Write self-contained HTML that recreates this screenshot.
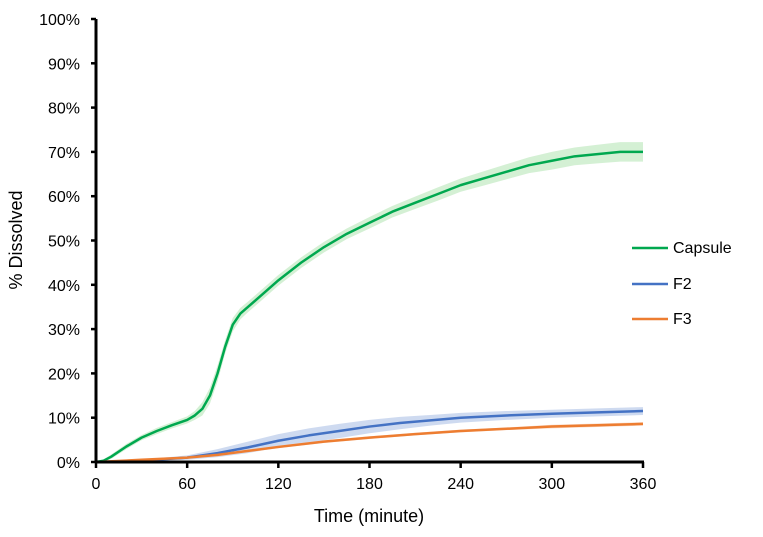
<!DOCTYPE html>
<html><head><meta charset="utf-8">
<style>
body{margin:0;background:#fff;font-family:"Liberation Sans",Arial,sans-serif;}
svg text{font-family:"Liberation Sans",Arial,sans-serif;fill:#000;}
</style></head>
<body>
<svg id="chart" width="763" height="532" viewBox="0 0 763 532" xmlns="http://www.w3.org/2000/svg"></svg>
<script>
const capT=[0,5,10,20,30,40,50,60,65,70,75,80,85,90,95,100,110,120,135,150,165,180,195,210,225,240,255,270,285,300,315,330,345,360];
const capV=[0,0.3,1.2,3.5,5.5,7,8.3,9.5,10.5,12,15,20,26,31,33.5,35,38,41,45,48.5,51.5,54,56.5,58.5,60.5,62.5,64,65.5,67,68,69,69.5,70,70];
const capErr=[0,0.3,0.5,0.6,0.6,0.7,0.7,0.8,1,1.5,1.8,1.8,1.5,1.5,1.3,1.2,1.2,1.2,1.2,1.2,1.2,1.3,1.3,1.4,1.5,1.5,1.6,1.7,1.8,2,2,2.1,2.2,2.2];
const f2T=[0,30,60,80,100,120,140,160,180,200,220,240,270,300,330,360];
const f2V=[0,0.3,1,2,3.3,4.8,6,7,8,8.8,9.4,10,10.5,10.9,11.2,11.5];
const f2Err=[0,0.2,0.5,0.9,1.3,1.5,1.6,1.6,1.5,1.4,1.2,1.1,1,0.9,0.9,0.9];
const f3T=[0,30,60,80,100,120,150,180,210,240,270,300,330,360];
const f3V=[0,0.5,1,1.6,2.5,3.4,4.6,5.5,6.3,7,7.5,8,8.3,8.6];
const f3Err=[0,0.1,0.2,0.3,0.3,0.3,0.3,0.3,0.3,0.3,0.3,0.4,0.4,0.4];
const xTicks=[0,60,120,180,240,300,360];
const yTicks=[0,10,20,30,40,50,60,70,80,90,100];
const seriesNames=["Capsule","F2","F3"];
const colors=["#00a84f","#4472c4","#ed7d31"];
const bandColors=["#cfeecf","#c9d6ee","#f8d7c2"];

const svg=document.getElementById('chart');
const NS="http://www.w3.org/2000/svg";
const X0=96,X1=643,Y0=462,Y1=19;
const xs=t=>X0+(t/360)*(X1-X0);
const ys=v=>Y0-(v/100)*(Y0-Y1);
function mk(tag,attrs,parent){const e=document.createElementNS(NS,tag);for(const k in attrs)e.setAttribute(k,attrs[k]);(parent||svg).appendChild(e);return e;}

const series=[[capT,capV,capErr],[f2T,f2V,f2Err],[f3T,f3V,f3Err]];
series.forEach((s,i)=>{
  const [T,V,E]=s;
  let d="M"+T.map((t,j)=>xs(t)+","+ys(V[j]+E[j])).join(" L");
  for(let j=T.length-1;j>=0;j--)d+=" L"+xs(T[j])+","+ys(Math.max(0,V[j]-E[j]));
  const b=mk('path',{d:d+"Z",fill:bandColors[i],stroke:"none",opacity:0.9});
  
  
});
series.forEach((s,i)=>{
  const [T,V]=s;
  const l=mk('polyline',{points:T.map((t,j)=>xs(t)+","+ys(V[j])).join(" "),fill:"none",stroke:colors[i],"stroke-width":2.5,"stroke-linejoin":"round"});
  
  
});
const ax=mk('line',{x1:X0-1,y1:Y0,x2:X1+1,y2:Y0,stroke:"#000","stroke-width":3});


const ay=mk('line',{x1:X0,y1:Y0+1,x2:X0,y2:Y1,stroke:"#000","stroke-width":3});


xTicks.forEach(t=>{
  mk('line',{x1:xs(t),y1:Y0,x2:xs(t),y2:Y0+6,stroke:"#000","stroke-width":2.5});
  const tx=mk('text',{x:xs(t),y:Y0+27,"text-anchor":"middle","font-size":16});
  tx.textContent=t;
  
  
});
yTicks.forEach(v=>{
  mk('line',{x1:X0-5,y1:ys(v),x2:X0,y2:ys(v),stroke:"#000","stroke-width":2.5});
  const tx=mk('text',{x:X0-16,y:ys(v)+6,"text-anchor":"end","font-size":16});
  tx.textContent=v+"%";
  
  
});
const xt=mk('text',{x:369,y:522,"text-anchor":"middle","font-size":18});
xt.textContent="Time (minute)";


const yt=mk('text',{x:22,y:240,"text-anchor":"middle","font-size":18,transform:"rotate(-90 22 240)"});
yt.textContent="% Dissolved";


[248,284,319].forEach((y,i)=>{
  const g=mk('g',{});
  
  
  mk('line',{x1:632,y1:y,x2:668,y2:y,stroke:colors[i],"stroke-width":2.5},g);
  const t=mk('text',{x:673,y:y+5,"font-size":16},g);
  t.textContent=seriesNames[i];
});
</script>
</body></html>
